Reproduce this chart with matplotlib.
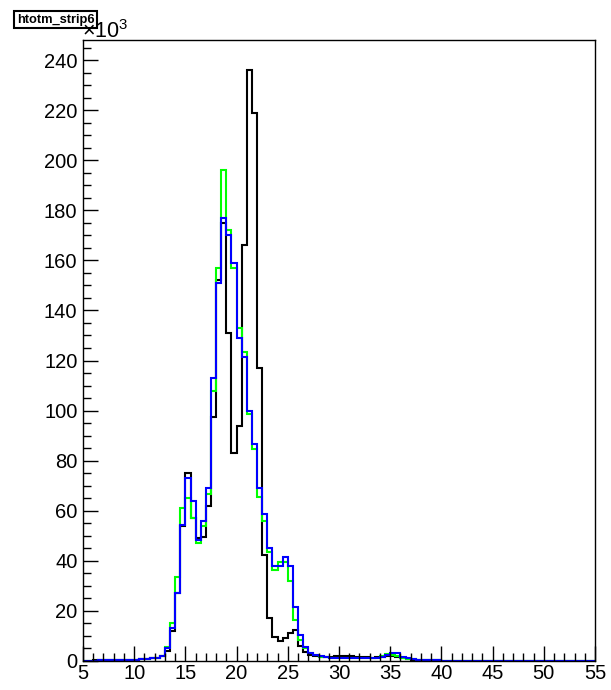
import numpy as np
import matplotlib
matplotlib.use("Agg")
import matplotlib.pyplot as plt

plt.rcParams['font.family'] = ['Liberation Sans', 'DejaVu Sans']
plt.rcParams['mathtext.default'] = 'regular'

# histogram binning: 100 bins of width 0.5 from 5 to 55
bin_edges = np.linspace(5, 55, 101)

# counts in units of 10^3, one value per bin
black_counts = [
    0.1, 0.1, 0.2, 0.2, 0.2, 0.3, 0.3, 0.3, 0.4, 0.4,      # 5 - 10
    0.5, 0.6, 0.8, 1.0, 1.3, 1.8, 4.0, 12.0, 27.0, 54.0,   # 10 - 15
    75.0, 57.0, 49.0, 49.5, 62.0, 97.5, 152.0, 175.0, 131.0, 83.0,  # 15 - 20
    94.0, 166.0, 236.0, 219.0, 117.0, 42.5, 17.0, 9.7, 7.8, 9.0,    # 20 - 25
    11.0, 12.4, 6.0, 3.5, 2.5, 2.0, 1.7, 1.5, 1.6, 1.8,    # 25 - 30
    2.0, 2.0, 1.8, 1.6, 1.5, 1.4, 1.3, 1.4, 1.6, 1.9,      # 30 - 35
    2.0, 1.5, 1.0, 0.7, 0.5, 0.4, 0.3, 0.3, 0.2, 0.2,      # 35 - 40
    0.1, 0.1, 0.1, 0.1, 0.1, 0.1, 0.1, 0.1, 0.1, 0.1,      # 40 - 45
    0.1, 0.1, 0.1, 0.1, 0.1, 0.1, 0.1, 0.1, 0.1, 0.1,      # 45 - 50
    0.1, 0.1, 0.1, 0.1, 0.1, 0.1, 0.1, 0.1, 0.1, 0.1,      # 50 - 55
]

green_counts = [
    0.1, 0.1, 0.1, 0.2, 0.2, 0.2, 0.3, 0.3, 0.3, 0.4,
    0.5, 0.6, 0.8, 1.0, 1.3, 1.8, 5.5, 15.0, 33.5, 61.0,
    65.0, 57.0, 47.0, 54.0, 66.5, 108.0, 157.0, 196.0, 172.0, 157.0,
    133.0, 123.5, 98.5, 84.5, 65.5, 56.0, 43.5, 36.5, 39.5, 39.5,
    32.0, 16.5, 8.5, 5.0, 3.0, 2.2, 1.7, 1.4, 1.3, 1.2,
    1.2, 1.1, 1.1, 1.0, 1.0, 1.0, 1.1, 1.3, 2.0, 2.8,
    2.5, 2.0, 1.2, 0.9, 0.6, 0.5, 0.4, 0.3, 0.2, 0.2,
    0.1, 0.1, 0.1, 0.1, 0.1, 0.1, 0.1, 0.1, 0.1, 0.1,
    0.1, 0.1, 0.1, 0.1, 0.1, 0.1, 0.1, 0.1, 0.1, 0.1,
    0.1, 0.1, 0.1, 0.1, 0.1, 0.1, 0.1, 0.1, 0.1, 0.1,
]

blue_counts = [
    0.1, 0.1, 0.1, 0.2, 0.2, 0.2, 0.3, 0.3, 0.3, 0.4,
    0.5, 0.6, 0.8, 1.0, 1.3, 2.0, 5.0, 13.0, 27.0, 54.5,
    73.0, 64.0, 48.5, 56.0, 69.0, 113.0, 151.0, 177.0, 170.0, 159.0,
    129.0, 121.5, 100.0, 86.5, 69.0, 58.7, 45.0, 37.8, 38.0, 41.5,
    38.0, 21.7, 10.4, 5.7, 3.2, 2.4, 1.8, 1.4, 1.3, 1.2,
    1.2, 1.1, 1.1, 1.0, 1.0, 1.0, 1.1, 1.2, 1.6, 2.2,
    3.2, 3.0, 1.6, 1.0, 0.7, 0.5, 0.4, 0.3, 0.2, 0.2,
    0.1, 0.1, 0.1, 0.1, 0.1, 0.1, 0.1, 0.1, 0.1, 0.1,
    0.1, 0.1, 0.1, 0.1, 0.1, 0.1, 0.1, 0.1, 0.1, 0.1,
    0.1, 0.1, 0.1, 0.1, 0.1, 0.1, 0.1, 0.1, 0.1, 0.1,
]

x_ticks = [5, 10, 15, 20, 25, 30, 35, 40, 45, 50, 55]
y_ticks = [0, 20, 40, 60, 80, 100, 120, 140, 160, 180, 200, 220, 240]

fig = plt.figure(figsize=(6.11, 6.90), dpi=100)
ax = fig.add_axes([83 / 611, 29 / 690, 512 / 611, 621 / 690])

ax.stairs(black_counts, bin_edges, color='black', lw=1.5)
ax.stairs(green_counts, bin_edges, color='#00ff00', lw=1.5)
ax.stairs(blue_counts, bin_edges, color='#0000ff', lw=1.5)

ax.set_xlim(5, 55)
ax.set_ylim(0, 248)
ax.set_xticks(x_ticks)
ax.set_yticks(y_ticks)
ax.set_xticks(np.arange(5, 56, 1), minor=True)
ax.set_yticks(np.arange(0, 248, 5), minor=True)
ax.tick_params(which='both', direction='in', width=1, labelsize=14.5)
ax.tick_params(which='major', length=11)
ax.tick_params(which='minor', length=5.5)
ax.tick_params(axis='x', pad=2)
ax.tick_params(axis='y', pad=4)
for s in ax.spines.values():
    s.set_linewidth(1)

# ROOT-like title box and exponent label
fig.text(17 / 611, 1 - 19.5 / 690, 'htotm_strip6', fontsize=9.3, fontweight='bold',
         va='center', ha='left',
         bbox=dict(boxstyle='square,pad=0.2', fc='white', ec='black', lw=1.5))
fig.text(82 / 611, 1 - 38 / 690, r'$\times10^{3}$', fontsize=15.5, ha='left', va='baseline')

fig.savefig('out.png', dpi=100)
